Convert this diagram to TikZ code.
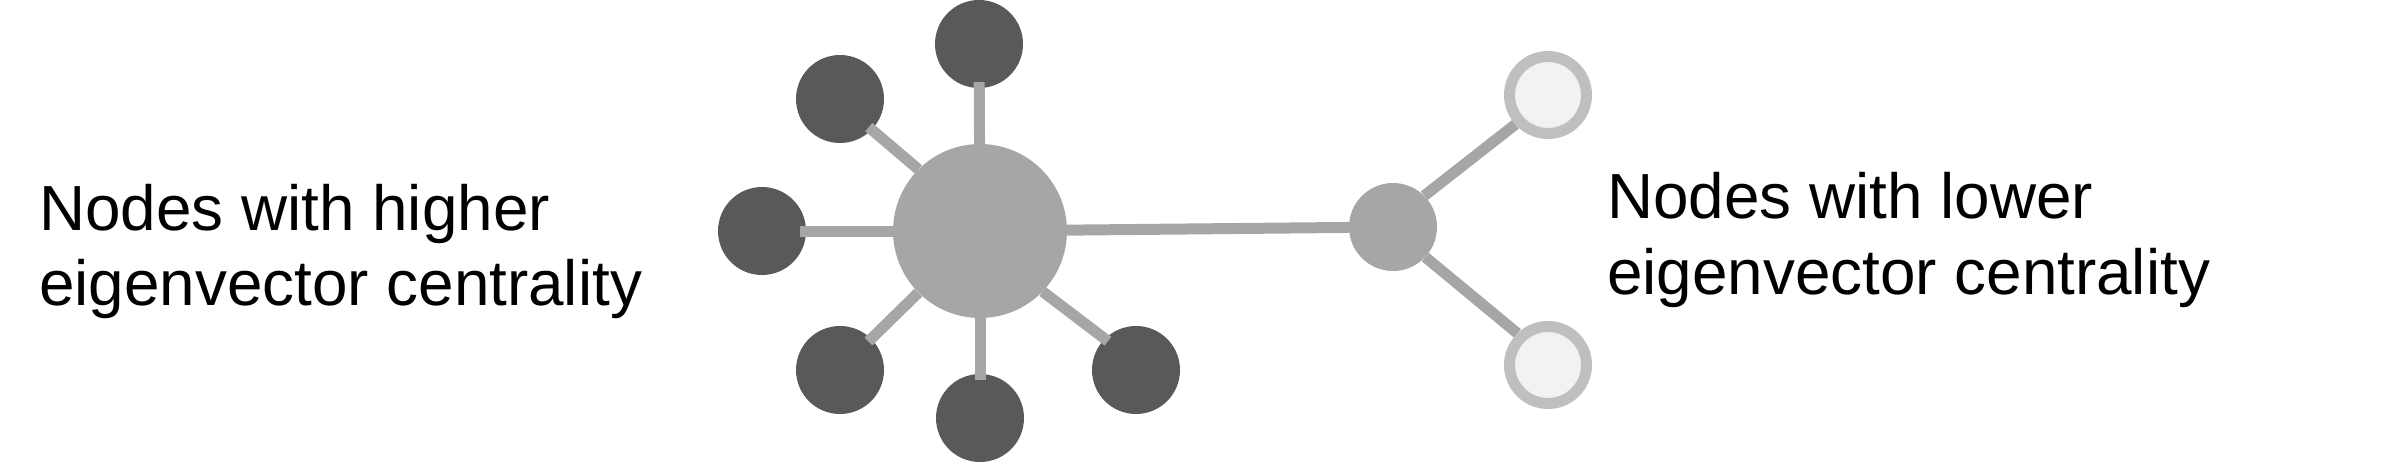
\documentclass[tikz,border=0pt]{standalone}
\usepackage{fontspec}
\setmainfont{Liberation Sans}
\pgfdeclarelayer{leaves}
\pgfdeclarelayer{edges}
\pgfsetlayers{leaves,edges,main}
\definecolor{darknode}{HTML}{595959}
\definecolor{midgray}{HTML}{A6A6A6}
\definecolor{lightfill}{HTML}{F2F2F2}
\definecolor{lightline}{HTML}{BFBFBF}
\tikzset{
  leaf/.style={circle, fill=darknode, inner sep=0pt, minimum size=88pt},
  hubnode/.style={circle, fill=midgray, inner sep=0pt, minimum size=174pt},
  midnode/.style={circle, fill=midgray, inner sep=0pt, minimum size=88pt},
  lownode/.style={circle, fill=lightfill, draw=lightline, line width=11pt, inner sep=0pt, minimum size=77pt},
  edge/.style={draw=midgray, line width=11pt},
  label/.style={font=\fontsize{63.8pt}{75.5pt}\selectfont, align=left, inner sep=0pt, anchor=base west}
}
\begin{document}
\begin{tikzpicture}[x=1pt,y=-1pt]
\useasboundingbox (0,0) rectangle (2387,463);
\begin{pgfonlayer}{leaves}
\node[leaf] (top) at (979,44) {};
\node[leaf] (ul) at (840,99) {};
\node[leaf] (l) at (762,231) {};
\node[leaf] (ll) at (840,370) {};
\node[leaf] (bot) at (980,418) {};
\node[leaf] (lr) at (1136,370) {};
\end{pgfonlayer}
\node[hubnode] (hub) at (980,231) {};
\node[midnode] (mid) at (1393,227) {};
\node[lownode] (up) at (1548,95) {};
\node[lownode] (dn) at (1548,365) {};
\begin{pgfonlayer}{edges}
\draw[edge, shorten >=-6pt] (hub) -- (top);
\draw[edge, shorten >=-6pt] (hub) -- (l);
\draw[edge, shorten >=-6pt] (hub) -- (bot);
\draw[edge, shorten >=-4pt] (hub.135) -- (ul.-44);
\draw[edge, shorten >=-4pt] (hub.225) -- (ll.45);
\draw[edge, shorten >=-4pt] (hub.-44) -- (lr.135);
\draw[edge] (hub) -- (mid);
\draw[edge] (mid.45) -- (up.222);
\draw[edge] (mid.-43) -- (dn.134);
\end{pgfonlayer}
\node[label] (lefttext) at (39,305.5) {Nodes with higher\\eigenvector centrality};
\node[label] (righttext) at (1607,294) {Nodes with lower\\eigenvector centrality};
\end{tikzpicture}
\end{document}
